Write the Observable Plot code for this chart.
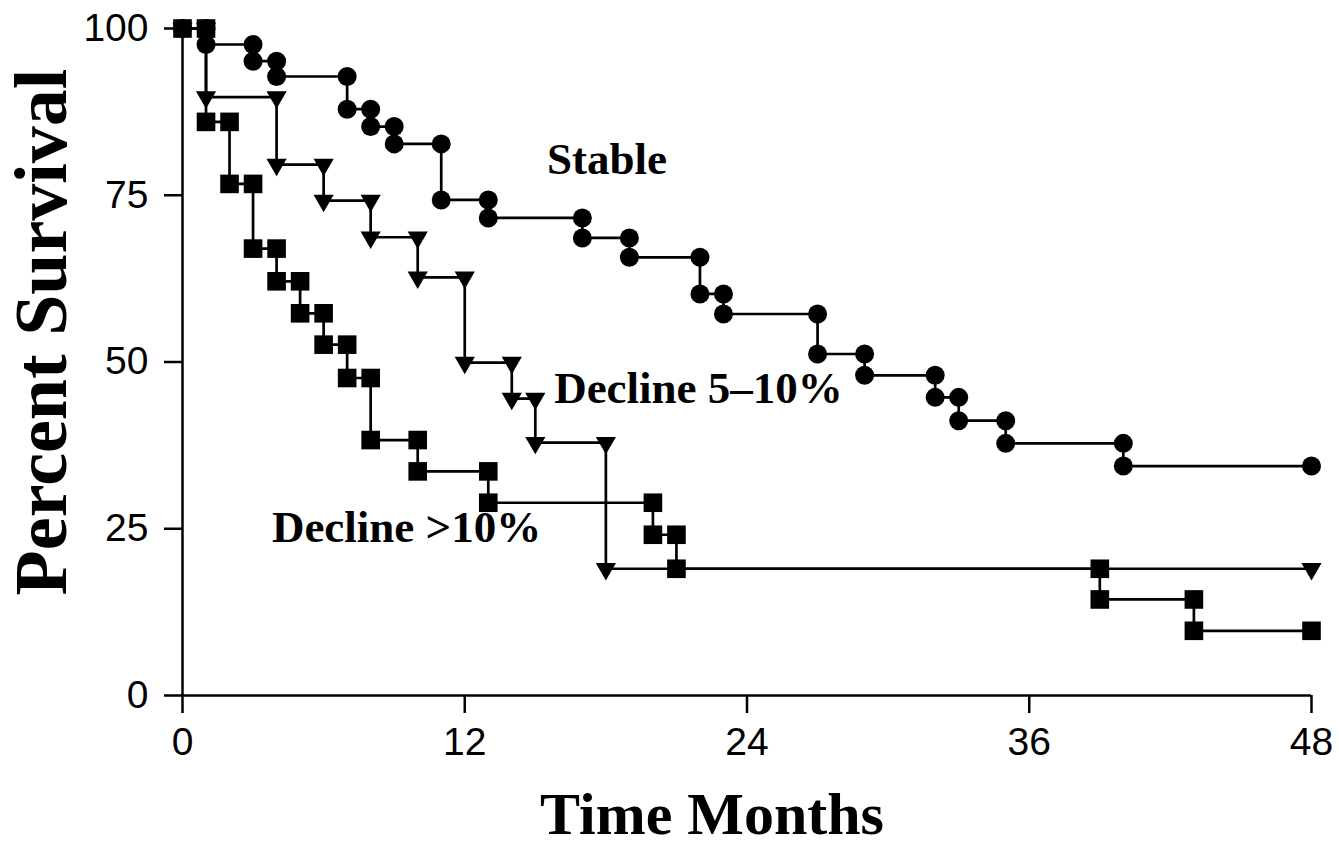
<!DOCTYPE html>
<html>
<head>
<meta charset="utf-8">
<script src="https://cdn.jsdelivr.net/npm/d3@7"></script>
<script src="https://cdn.jsdelivr.net/npm/@observablehq/plot@0.6"></script>
<style>
  html, body { margin: 0; padding: 0; background: #fff; }
</style>
</head>
<body>
<div id="chart"></div>
<script>
// ---- data (months, percent survival at each event) ----
const endTime = 48;

const stableTime = [0, 1, 3, 4, 7, 8, 9, 11, 13, 17, 19, 22, 23, 27, 29, 32, 33, 35, 40];
const stableSurv = [100, 97.6, 95.1, 92.8, 87.9, 85.3, 82.7, 74.3, 71.6, 68.6, 65.7, 60.2, 57.2, 51.2, 48.0, 44.7, 41.2, 37.8, 34.4];

const decline5Time = [0, 1, 4, 6, 8, 10, 12, 14, 15, 18];
const decline5Surv = [100, 89.7, 79.6, 74.2, 68.7, 62.7, 49.9, 44.5, 37.9, 19.0];

const decline10Time = [0, 1, 2, 3, 4, 5, 6, 7, 8, 10, 13, 20, 21, 39, 43];
const decline10Surv = [100, 86.0, 76.7, 67.0, 62.1, 57.3, 52.6, 47.6, 38.3, 33.6, 28.9, 24.1, 19.0, 14.4, 9.7];

const xTicks = [0, 12, 24, 36, 48];
const yTicks = [0, 25, 50, 75, 100];

const seriesNames = ["Stable", "Decline 5–10%", "Decline >10%"];
const labelTime = [15.5, 15.8, 3.8];
const labelSurv = [80.3, 46.0, 25.2];

const xTitle = "Time Months";
const yTitle = "Percent Survival";

// ---- build tables ----
function stepLine(times, surv, name) {
  const pts = times.map((t, i) => ({series: name, t, s: surv[i]}));
  pts.push({series: name, t: endTime, s: surv[surv.length - 1]});
  return pts;
}
function corners(times, surv, name) {
  const pts = [{series: name, t: times[0], s: surv[0]}];
  for (let i = 1; i < times.length; i++) {
    pts.push({series: name, t: times[i], s: surv[i - 1]});
    pts.push({series: name, t: times[i], s: surv[i]});
  }
  pts.push({series: name, t: endTime, s: surv[surv.length - 1]});
  return pts;
}

const lineStable = stepLine(stableTime, stableSurv, seriesNames[0]);
const line5 = stepLine(decline5Time, decline5Surv, seriesNames[1]);
const line10 = stepLine(decline10Time, decline10Surv, seriesNames[2]);

const dotStable = corners(stableTime, stableSurv, seriesNames[0]);
const dot5 = corners(decline5Time, decline5Surv, seriesNames[1]);
const dot10 = corners(decline10Time, decline10Surv, seriesNames[2]);

const labels = seriesNames.map((n, i) => ({text: n, t: labelTime[i], s: labelSurv[i]}));

const triangleDown = {
  draw(context, size) {
    const y = Math.sqrt(size / (Math.sqrt(3) * 3));
    context.moveTo(0, 2 * y);
    context.lineTo(Math.sqrt(3) * y, -y);
    context.lineTo(-Math.sqrt(3) * y, -y);
    context.closePath();
  }
};

const serif = "'Liberation Serif', 'Times New Roman', serif";

const chart = Plot.plot({
  width: 1339,
  height: 848,
  marginLeft: 182,
  marginRight: 28,
  marginTop: 28,
  marginBottom: 153,
  style: {fontFamily: "'Liberation Sans', Arial, sans-serif", fontSize: "38px", color: "#000", background: "#fff"},
  x: {domain: [0, 48]},
  y: {domain: [0, 100]},
  marks: [
    Plot.axisX({ticks: xTicks, tickSize: 18, tickPadding: 14, strokeWidth: 2.5, label: null, fontSize: 39}),
    Plot.axisY({ticks: yTicks, tickSize: 18, tickPadding: 16, strokeWidth: 2.5, label: null, fontSize: 39}),
    Plot.ruleY([0], {stroke: "#000", strokeWidth: 2.5}),
    Plot.ruleX([0], {stroke: "#000", strokeWidth: 2.5}),
    Plot.line(line10, {x: "t", y: "s", curve: "step-after", stroke: "#000", strokeWidth: 2.7}),
    Plot.line(line5, {x: "t", y: "s", curve: "step-after", stroke: "#000", strokeWidth: 2.7}),
    Plot.line(lineStable, {x: "t", y: "s", curve: "step-after", stroke: "#000", strokeWidth: 2.7}),
    Plot.dot(dot10, {x: "t", y: "s", symbol: "square", r: 10.5, fill: "#000", stroke: "none"}),
    Plot.dot(dot5, {x: "t", y: "s", symbol: triangleDown, r: 7.5, fill: "#000", stroke: "none"}),
    Plot.dot(dotStable, {x: "t", y: "s", symbol: "circle", r: 9.5, fill: "#000", stroke: "none"}),
    Plot.text(labels, {x: "t", y: "s", text: "text", textAnchor: "start", lineAnchor: "middle",
      fontFamily: serif, fontWeight: "bold", fontSize: 45, fill: "#000"}),
    Plot.text([yTitle], {frameAnchor: "left", rotate: -90, dx: -140, dy: -30, textAnchor: "middle", lineAnchor: "middle",
      fontFamily: serif, fontWeight: "bold", fontSize: 74, fill: "#000"}),
    Plot.text([xTitle], {frameAnchor: "bottom", dx: -35, dy: 119, textAnchor: "middle", lineAnchor: "middle",
      fontFamily: serif, fontWeight: "bold", fontSize: 60, fill: "#000"})
  ]
});

document.getElementById("chart").appendChild(chart);
</script>
</body>
</html>
